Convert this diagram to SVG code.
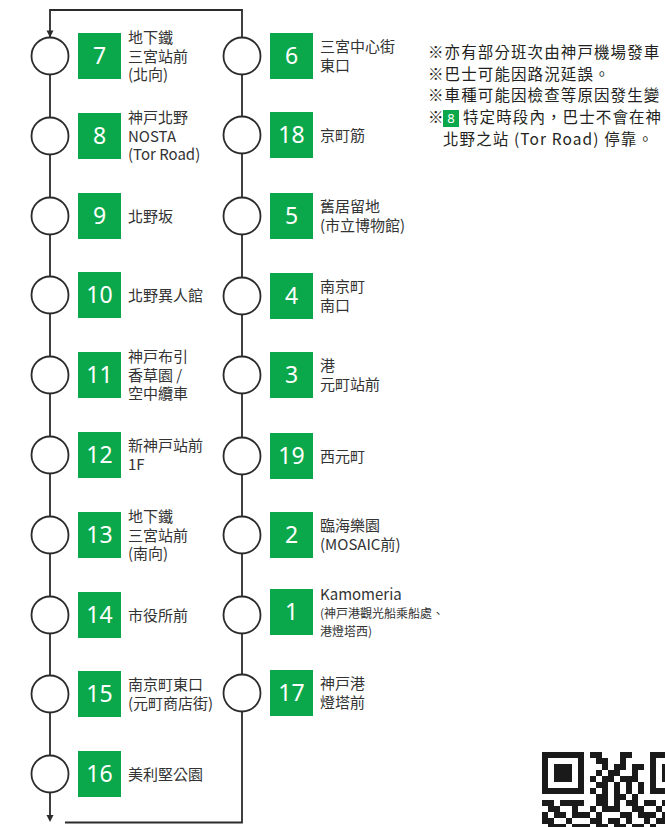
<svg xmlns="http://www.w3.org/2000/svg" width="665" height="827" viewBox="0 0 665 827">
<style>
.ln{fill:none;stroke:#2b2b2b;stroke-width:1.8}
.ah{fill:#2b2b2b}
.st{fill:#fff;stroke:#2b2b2b;stroke-width:1.8}
.bx{fill:#0aa84b}
.num{font-family:"Noto Sans","Open Sans",sans-serif;font-size:23px;fill:#fff;text-anchor:middle}
.lb{font-family:"Noto Sans CJK TC","Noto Sans",sans-serif;font-size:15px;fill:#333333}
.sm{font-size:12px}
.nt{font-family:"Noto Sans CJK TC","Noto Sans",sans-serif;font-size:15.5px;fill:#231f20;letter-spacing:1.1px}
.nb{font-family:"Noto Sans","Open Sans",sans-serif;font-size:13px;fill:#fff;text-anchor:middle}
.qr{fill:#1a1a1a}
</style>
<g id="connectors">
<path class="ln" d="M50 816 V10 H242 V822.5 H65"/>
<polygon class="ah" points="46.5,30.5 53.5,30.5 50,37.5"/>
<polygon class="ah" points="46.5,815 53.5,815 50,822"/>
</g>
<g id="stop-7"><circle class="st" cx="50" cy="56" r="18.5"/><rect class="bx" x="78" y="33" width="43" height="46"/><text class="num" x="99.5" y="64">7</text><text class="lb" x="128" y="43">地下鐵</text><text class="lb" x="128" y="61.5">三宮站前</text><text class="lb" x="128" y="80">(北向)</text></g>
<g id="stop-8"><circle class="st" cx="50" cy="136" r="18.5"/><rect class="bx" x="78" y="113" width="43" height="46"/><text class="num" x="99.5" y="144">8</text><text class="lb" x="128" y="123">神戸北野</text><text class="lb" x="128" y="141.5">NOSTA</text><text class="lb" x="128" y="160">(Tor Road)</text></g>
<g id="stop-9"><circle class="st" cx="50" cy="216" r="18.5"/><rect class="bx" x="78" y="193" width="43" height="46"/><text class="num" x="99.5" y="224">9</text><text class="lb" x="128" y="221.5">北野坂</text></g>
<g id="stop-10"><circle class="st" cx="50" cy="295" r="18.5"/><rect class="bx" x="78" y="272" width="43" height="46"/><text class="num" x="99.5" y="303">10</text><text class="lb" x="128" y="300.5">北野異人館</text></g>
<g id="stop-11"><circle class="st" cx="50" cy="375" r="18.5"/><rect class="bx" x="78" y="352" width="43" height="46"/><text class="num" x="99.5" y="383">11</text><text class="lb" x="128" y="362">神戸布引</text><text class="lb" x="128" y="380.5">香草園 /</text><text class="lb" x="128" y="399">空中纜車</text></g>
<g id="stop-12"><circle class="st" cx="50" cy="455" r="18.5"/><rect class="bx" x="78" y="432" width="43" height="46"/><text class="num" x="99.5" y="463">12</text><text class="lb" x="128" y="451">新神戸站前</text><text class="lb" x="128" y="470">1F</text></g>
<g id="stop-13"><circle class="st" cx="50" cy="535" r="18.5"/><rect class="bx" x="78" y="512" width="43" height="46"/><text class="num" x="99.5" y="543">13</text><text class="lb" x="128" y="522">地下鐵</text><text class="lb" x="128" y="540.5">三宮站前</text><text class="lb" x="128" y="559">(南向)</text></g>
<g id="stop-14"><circle class="st" cx="50" cy="615" r="18.5"/><rect class="bx" x="78" y="592" width="43" height="46"/><text class="num" x="99.5" y="623">14</text><text class="lb" x="128" y="620.5">市役所前</text></g>
<g id="stop-15"><circle class="st" cx="50" cy="694" r="18.5"/><rect class="bx" x="78" y="671" width="43" height="46"/><text class="num" x="99.5" y="702">15</text><text class="lb" x="128" y="690">南京町東口</text><text class="lb" x="128" y="709">(元町商店街)</text></g>
<g id="stop-16"><circle class="st" cx="50" cy="774" r="18.5"/><rect class="bx" x="78" y="751" width="43" height="46"/><text class="num" x="99.5" y="782">16</text><text class="lb" x="128" y="779.5">美利堅公園</text></g>
<g id="stop-6"><circle class="st" cx="242" cy="56" r="18.5"/><rect class="bx" x="270" y="33" width="43" height="46"/><text class="num" x="291.5" y="64">6</text><text class="lb" x="320" y="52">三宮中心街</text><text class="lb" x="320" y="71">東口</text></g>
<g id="stop-18"><circle class="st" cx="242" cy="135" r="18.5"/><rect class="bx" x="270" y="112" width="43" height="46"/><text class="num" x="291.5" y="143">18</text><text class="lb" x="320" y="140.5">京町筋</text></g>
<g id="stop-5"><circle class="st" cx="242" cy="216" r="18.5"/><rect class="bx" x="270" y="193" width="43" height="46"/><text class="num" x="291.5" y="224">5</text><text class="lb" x="320" y="212">舊居留地</text><text class="lb" x="320" y="231">(市立博物館)</text></g>
<g id="stop-4"><circle class="st" cx="242" cy="296" r="18.5"/><rect class="bx" x="270" y="273" width="43" height="46"/><text class="num" x="291.5" y="304">4</text><text class="lb" x="320" y="292">南京町</text><text class="lb" x="320" y="311">南口</text></g>
<g id="stop-3"><circle class="st" cx="242" cy="375" r="18.5"/><rect class="bx" x="270" y="352" width="43" height="46"/><text class="num" x="291.5" y="383">3</text><text class="lb" x="320" y="371">港</text><text class="lb" x="320" y="390">元町站前</text></g>
<g id="stop-19"><circle class="st" cx="242" cy="456" r="18.5"/><rect class="bx" x="270" y="433" width="43" height="46"/><text class="num" x="291.5" y="464">19</text><text class="lb" x="320" y="461.5">西元町</text></g>
<g id="stop-2"><circle class="st" cx="242" cy="535" r="18.5"/><rect class="bx" x="270" y="512" width="43" height="46"/><text class="num" x="291.5" y="543">2</text><text class="lb" x="320" y="531">臨海樂園</text><text class="lb" x="320" y="550">(MOSAIC前)</text></g>
<g id="stop-1"><circle class="st" cx="242" cy="615" r="18.5"/><rect class="bx" x="270" y="589" width="43" height="46"/><text class="num" x="291.5" y="620">1</text><text class="lb" x="320" y="600">Kamomeria</text><text class="lb sm" x="320" y="618">(神戸港觀光船乘船處、</text><text class="lb sm" x="320" y="636">港燈塔西)</text></g>
<g id="stop-17"><circle class="st" cx="242" cy="693" r="18.5"/><rect class="bx" x="270" y="670" width="43" height="46"/><text class="num" x="291.5" y="701">17</text><text class="lb" x="320" y="689">神戸港</text><text class="lb" x="320" y="708">燈塔前</text></g>
<g id="notes">
<text class="nt" x="428" y="58">※亦有部分班次由神戸機場發車</text>
<text class="nt" x="428" y="79.5">※巴士可能因路況延誤。</text>
<text class="nt" x="428" y="101">※車種可能因檢查等原因發生變</text>
<text class="nt" x="428" y="123">※</text>
<rect class="bx" x="443" y="110" width="16" height="17"/>
<text class="nb" x="451" y="123">8</text>
<text class="nt" x="463" y="123">特定時段內，巴士不會在神</text>
<text class="nt" x="443" y="144.5">北野之站 (Tor Road) 停靠。</text>
</g>
<g id="qr" class="qr">
<rect x="542" y="752" width="42" height="6"/><rect x="590" y="752" width="12" height="6"/><rect x="620" y="752" width="12" height="6"/><rect x="650" y="752" width="18" height="6"/>
<rect x="542" y="758" width="6" height="6"/><rect x="578" y="758" width="6" height="6"/><rect x="596" y="758" width="12" height="6"/><rect x="620" y="758" width="6" height="6"/><rect x="650" y="758" width="6" height="6"/>
<rect x="542" y="764" width="6" height="6"/><rect x="554" y="764" width="18" height="18"/><rect x="578" y="764" width="6" height="6"/><rect x="602" y="764" width="6" height="6"/><rect x="614" y="764" width="12" height="6"/><rect x="632" y="764" width="12" height="6"/><rect x="650" y="764" width="6" height="6"/><rect x="662" y="764" width="6" height="18"/>
<rect x="542" y="770" width="6" height="6"/><rect x="578" y="770" width="6" height="6"/><rect x="596" y="770" width="6" height="6"/><rect x="608" y="770" width="12" height="6"/><rect x="632" y="770" width="6" height="6"/><rect x="650" y="770" width="6" height="6"/>
<rect x="542" y="776" width="6" height="6"/><rect x="578" y="776" width="6" height="6"/><rect x="590" y="776" width="6" height="6"/><rect x="602" y="776" width="12" height="6"/><rect x="620" y="776" width="18" height="6"/><rect x="650" y="776" width="6" height="6"/>
<rect x="542" y="782" width="6" height="6"/><rect x="578" y="782" width="6" height="6"/><rect x="596" y="782" width="12" height="6"/><rect x="614" y="782" width="6" height="6"/><rect x="626" y="782" width="6" height="6"/><rect x="638" y="782" width="6" height="6"/><rect x="650" y="782" width="6" height="6"/>
<rect x="542" y="788" width="42" height="6"/><rect x="590" y="788" width="6" height="6"/><rect x="602" y="788" width="6" height="6"/><rect x="614" y="788" width="6" height="6"/><rect x="626" y="788" width="6" height="6"/><rect x="638" y="788" width="6" height="6"/><rect x="650" y="788" width="18" height="6"/>
<rect x="596" y="794" width="12" height="6"/><rect x="614" y="794" width="12" height="6"/><rect x="632" y="794" width="6" height="6"/>
<rect x="542" y="800" width="12" height="6"/><rect x="560" y="800" width="24" height="6"/><rect x="596" y="800" width="12" height="6"/><rect x="614" y="800" width="6" height="6"/><rect x="626" y="800" width="12" height="6"/><rect x="644" y="800" width="12" height="6"/><rect x="662" y="800" width="6" height="6"/>
<rect x="548" y="806" width="12" height="6"/><rect x="572" y="806" width="6" height="6"/><rect x="590" y="806" width="6" height="6"/><rect x="602" y="806" width="18" height="6"/><rect x="632" y="806" width="12" height="6"/><rect x="656" y="806" width="6" height="6"/>
<rect x="542" y="812" width="6" height="6"/><rect x="554" y="812" width="12" height="6"/><rect x="572" y="812" width="18" height="6"/><rect x="596" y="812" width="6" height="6"/><rect x="620" y="812" width="12" height="6"/><rect x="638" y="812" width="18" height="6"/><rect x="662" y="812" width="6" height="6"/>
<rect x="542" y="818" width="12" height="6"/><rect x="566" y="818" width="6" height="6"/><rect x="590" y="818" width="12" height="6"/><rect x="608" y="818" width="12" height="6"/><rect x="626" y="818" width="6" height="6"/><rect x="644" y="818" width="6" height="6"/><rect x="656" y="818" width="12" height="6"/>
<rect x="548" y="824" width="18" height="6"/><rect x="572" y="824" width="18" height="6"/><rect x="596" y="824" width="12" height="6"/><rect x="614" y="824" width="12" height="6"/><rect x="632" y="824" width="12" height="6"/><rect x="650" y="824" width="6" height="6"/>
</g>
</svg>
